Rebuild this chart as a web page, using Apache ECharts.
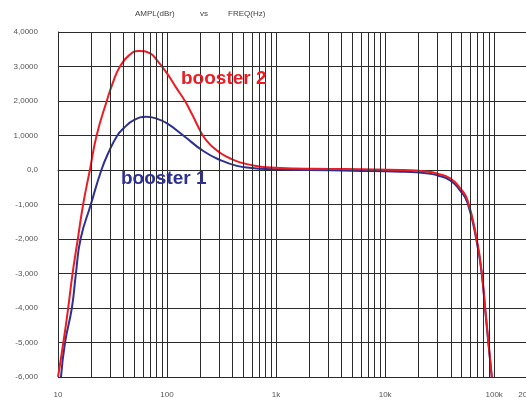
<!DOCTYPE html>
<html>
<head>
<meta charset="utf-8">
<script src="https://cdn.jsdelivr.net/npm/echarts@6/dist/echarts.min.js"></script>
<style>
  html, body { margin: 0; padding: 0; background: #fff; }
  #chart { width: 526px; height: 398px; }
</style>
</head>
<body>
<div id="chart"></div>
<script>
// Frequency response of the two booster settings (frequency in Hz, amplitude in dBr)
const booster2Freq = [10, 11.2, 12.4, 13.6, 15.2, 17, 19.6, 22.6, 28, 32, 37, 45, 55, 70, 80, 100, 120, 146, 160, 175, 192, 210, 235, 259, 306, 350, 400, 467, 600, 822, 1500, 3000, 6000, 14000, 25000, 29800, 39500, 48800, 56900, 69400, 77100, 82700, 88700, 95200];
const booster2Ampl = [-6.0, -5.0, -4.0, -3.0, -2.0, -1.0, 0.0, 1.0, 2.0, 2.55, 3.0, 3.33, 3.45, 3.38, 3.2, 2.8, 2.41, 2.0, 1.77, 1.53, 1.27, 1.03, 0.82, 0.68, 0.5, 0.39, 0.3, 0.22, 0.14, 0.08, 0.04, 0.03, 0.02, 0.0, -0.05, -0.1, -0.24, -0.53, -0.87, -2.03, -3.0, -4.0, -5.0, -6.0];

const booster1Freq = [10.65, 11.6, 13.4, 14.6, 16.1, 20, 25, 29, 35, 40, 50, 64, 80, 100, 141, 215, 306, 437, 600, 822, 2000, 5000, 14000, 25000, 29800, 39500, 48800, 56900, 69400, 77100, 82700, 88700, 95000];
const booster1Ampl = [-6.0, -5.0, -4.0, -3.0, -2.0, -1.0, 0.0, 0.5, 1.0, 1.21, 1.45, 1.54, 1.49, 1.35, 1.0, 0.55, 0.29, 0.12, 0.06, 0.03, 0.0, -0.02, -0.05, -0.1, -0.15, -0.3, -0.6, -0.95, -2.1, -3.05, -4.05, -5.05, -6.0];

// Axis tick labels
const yTickValues = [4, 3, 2, 1, 0, -1, -2, -3, -4, -5, -6];
const yTickLabels = ['4,0000', '3,0000', '2,0000', '1,0000', '0,0', '-1,000', '-2,000', '-3,000', '-4,000', '-5,000', '-6,000'];
const xTickValues = [10, 100, 1000, 10000, 100000, 200000];
const xTickLabels = ['10', '100', '1k', '10k', '100k', '200k'];

const RED = '#ec1c24';
const BLUE = '#2e3192';
const GRID = '#2b2b2b';

// Log-paper verticals at 2..9 of each decade
const minorFreqs = [];
for (let d = 10; d <= 100000; d *= 10) {
  for (let m = 2; m <= 9; m++) {
    if (d * m <= 200000) minorFreqs.push(d * m);
  }
}

const zip = (xs, ys) => xs.map((x, i) => [x, ys[i]]);

const chart = echarts.init(document.getElementById('chart'), null, { renderer: 'canvas' });
chart.setOption({
  animation: false,
  backgroundColor: '#fff',
  grid: { left: 58, top: 32, width: 469, height: 345, outerBoundsMode: 'none', containLabel: false },
  xAxis: {
    type: 'log',
    logBase: 10,
    min: 10,
    max: 200000,
    axisLine: { show: true, lineStyle: { color: GRID, width: 1 } },
    axisTick: { show: false },
    splitLine: { show: true, lineStyle: { color: GRID, width: 1 } },
    axisLabel: {
      margin: 14,
      fontSize: 8,
      color: '#555',
      fontFamily: 'Liberation Sans',
      hideOverlap: false,
      formatter: v => {
        const i = xTickValues.findIndex(t => Math.abs(t - v) / t < 1e-6);
        return i >= 0 ? xTickLabels[i] : '';
      }
    }
  },
  yAxis: {
    type: 'value',
    min: -6,
    max: 4,
    interval: 1,
    axisLine: { show: true, lineStyle: { color: GRID, width: 1 } },
    axisTick: { show: false },
    splitLine: { show: true, lineStyle: { color: GRID, width: 1 } },
    axisLabel: {
      margin: 20,
      fontSize: 8,
      color: '#555',
      fontFamily: 'Liberation Sans',
      formatter: v => {
        const i = yTickValues.indexOf(Math.round(v));
        return i >= 0 ? yTickLabels[i] : '';
      }
    }
  },
  graphic: [
    { type: 'text', left: 135, top: 10, style: { text: 'AMPL(dBr)', font: '8px "Liberation Sans"', fill: '#444' } },
    { type: 'text', left: 200, top: 10, style: { text: 'vs', font: '8px "Liberation Sans"', fill: '#444' } },
    { type: 'text', left: 228, top: 10, style: { text: 'FREQ(Hz)', font: '8px "Liberation Sans"', fill: '#444' } },
    { type: 'text', left: 181, top: 69, z: 10, style: { text: 'booster 2', font: 'bold 19px "Liberation Sans"', fill: RED } },
    { type: 'text', left: 121, top: 169, z: 10, style: { text: 'booster 1', font: 'bold 19px "Liberation Sans"', fill: BLUE } }
  ],
  series: [
    {
      name: 'grid',
      type: 'line',
      data: [],
      silent: true,
      z: 1,
      markLine: {
        silent: true,
        symbol: ['none', 'none'],
        label: { show: false },
        lineStyle: { color: GRID, width: 1, type: 'solid' },
        data: minorFreqs.map(f => ({ xAxis: f }))
      }
    },
    {
      name: 'booster 1',
      type: 'line',
      data: zip(booster1Freq, booster1Ampl),
      showSymbol: false,
      smooth: 0.5,
      lineStyle: { color: BLUE, width: 2 },
      z: 3
    },
    {
      name: 'booster 2',
      type: 'line',
      data: zip(booster2Freq, booster2Ampl),
      showSymbol: false,
      smooth: 0.5,
      lineStyle: { color: RED, width: 2 },
      z: 4
    }
  ]
});
</script>
</body>
</html>
